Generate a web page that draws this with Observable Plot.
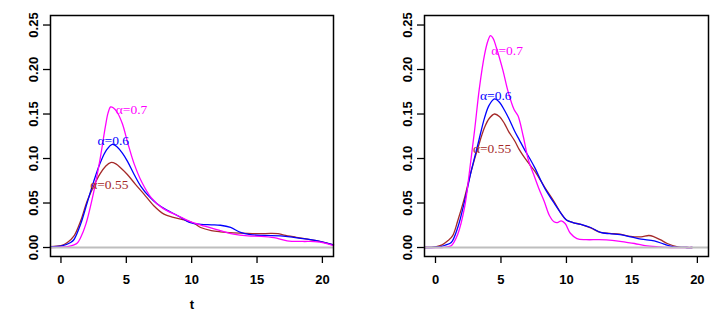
<!DOCTYPE html>
<html>
<head>
<meta charset="utf-8">
<script src="https://cdn.jsdelivr.net/npm/d3@7"></script>
<script src="https://cdn.jsdelivr.net/npm/@observablehq/plot@0.6"></script>
<style>
  html, body { margin: 0; padding: 0; background: #fff; }
  #wrap { display: flex; flex-direction: row; width: 723px; height: 316px; }
  svg [aria-label$="tick"] path { stroke-width: 1.3; }
</style>
</head>
<body>
<div id="wrap"></div>
<script>
// ---------- data ----------
const yTicks = [0, 0.05, 0.10, 0.15, 0.20, 0.25];
const xTicks = [0, 5, 10, 15, 20];
const seriesNames = ["α=0.55", "α=0.6", "α=0.7"];
const seriesColors = ["#a52a2a", "#0000ff", "#ff00ff"];

// left panel
const leftT055 = [-0.8, 0, 0.49, 1.0, 1.51, 2.0, 2.5, 3.0, 3.4, 3.8, 4.2, 4.6, 5.08, 5.7, 6.35, 7.1, 7.88, 8.6, 9.41, 10.2, 10.69, 11.5, 12.2, 13.2, 14.26, 15.2, 16.04, 16.6, 17.07, 18.0, 18.85, 19.8, 20.85];
const leftY055 = [0.001, 0.002, 0.0056, 0.013, 0.030, 0.052, 0.069, 0.083, 0.091, 0.0955, 0.094, 0.089, 0.082, 0.071, 0.060, 0.047, 0.0375, 0.034, 0.031, 0.027, 0.0225, 0.019, 0.0176, 0.0165, 0.0158, 0.0155, 0.0158, 0.0155, 0.0139, 0.0115, 0.0094, 0.007, 0.003];
const leftT06 = [-0.8, 0, 0.74, 1.0, 1.5, 2.0, 2.5, 3.0, 3.5, 3.93, 4.3, 4.7, 5.08, 5.6, 6.1, 6.7, 7.37, 8.1, 8.9, 9.9, 10.7, 11.5, 12.2, 12.98, 13.74, 14.5, 15.5, 16.8, 17.8, 18.85, 19.8, 20.85];
const leftY06 = [0.001, 0.0015, 0.0056, 0.009, 0.026, 0.050, 0.074, 0.095, 0.110, 0.116, 0.113, 0.106, 0.097, 0.082, 0.069, 0.058, 0.049, 0.042, 0.036, 0.028, 0.026, 0.0255, 0.025, 0.0225, 0.017, 0.0145, 0.0135, 0.013, 0.0115, 0.0094, 0.007, 0.003];
const leftT07 = [-0.8, 0, 0.5, 1.0, 1.25, 1.5, 1.9, 2.5, 3.0, 3.4, 3.6, 3.8, 4.0, 4.3, 4.7, 5.1, 5.6, 6.2, 6.9, 7.8, 8.9, 9.9, 11.0, 12.2, 13.2, 14.3, 15.3, 16.3, 17.3, 18.5, 19.4, 20.2, 20.85];
const leftY07 = [0, 0.0005, 0.001, 0.003, 0.005, 0.011, 0.026, 0.062, 0.100, 0.136, 0.151, 0.158, 0.157, 0.152, 0.139, 0.118, 0.094, 0.073, 0.056, 0.044, 0.036, 0.029, 0.024, 0.019, 0.015, 0.013, 0.0125, 0.011, 0.0075, 0.0068, 0.0067, 0.005, 0.002];

// right panel
const rightT055 = [-0.84, 0, 0.5, 0.94, 1.3, 1.7, 2.22, 2.73, 3.24, 3.75, 4.1, 4.51, 4.9, 5.28, 5.6, 6.04, 6.4, 6.8, 7.2, 7.57, 8.33, 9.1, 9.56, 10.0, 10.5, 11.1, 11.85, 12.6, 13.3, 14.1, 14.9, 15.7, 16.3, 16.7, 17.2, 17.7, 18.5, 19.2, 19.6];
const rightY055 = [0, 0.0008, 0.003, 0.0075, 0.013, 0.030, 0.056, 0.086, 0.112, 0.135, 0.145, 0.150, 0.147, 0.139, 0.130, 0.120, 0.110, 0.101, 0.093, 0.086, 0.068, 0.0506, 0.039, 0.031, 0.028, 0.026, 0.022, 0.017, 0.0158, 0.015, 0.0125, 0.012, 0.0135, 0.012, 0.0085, 0.0045, 0.0008, 0, 0];
const rightT06 = [-0.84, 0, 0.43, 0.8, 1.2, 1.7, 2.22, 2.73, 3.24, 3.75, 4.1, 4.51, 4.9, 5.28, 5.6, 6.04, 6.4, 6.8, 7.2, 7.57, 8.33, 9.1, 9.56, 10.0, 10.5, 11.1, 11.85, 12.6, 13.3, 14.1, 14.9, 15.7, 16.7, 17.45, 18.2, 19.2, 19.6];
const rightY06 = [0, 0.0003, 0.001, 0.003, 0.0056, 0.0225, 0.052, 0.086, 0.116, 0.146, 0.160, 0.167, 0.163, 0.154, 0.145, 0.131, 0.121, 0.110, 0.100, 0.090, 0.067, 0.049, 0.039, 0.031, 0.028, 0.026, 0.0225, 0.017, 0.0155, 0.0145, 0.012, 0.0094, 0.0075, 0.0038, 0.0008, 0, 0];
const rightT07 = [-0.84, 0.5, 1.0, 1.2, 1.7, 2.22, 2.6, 2.98, 3.36, 3.75, 4.0, 4.2, 4.4, 4.64, 5.15, 5.53, 6.0, 6.3, 6.7, 7.1, 7.5, 7.9, 8.3, 8.7, 9.05, 9.3, 9.6, 9.9, 10.3, 10.8, 11.5, 12.5, 13.5, 14.5, 15.2, 16.0, 17.0, 18.0, 19.6];
const rightY07 = [0, 0, 0.001, 0.002, 0.015, 0.045, 0.086, 0.131, 0.180, 0.217, 0.232, 0.238, 0.235, 0.225, 0.199, 0.176, 0.155, 0.148, 0.125, 0.098, 0.082, 0.066, 0.052, 0.036, 0.029, 0.028, 0.030, 0.027, 0.016, 0.010, 0.0088, 0.0088, 0.008, 0.006, 0.0045, 0.002, 0.0007, 0, 0];

// label positions (data coordinates)
const leftLabelT = [3.7, 4.0, 5.4];
const leftLabelY = [0.0705, 0.12, 0.155];
const rightLabelT = [4.32, 4.6, 5.47];
const rightLabelY = [0.1105, 0.171, 0.221];

// ---------- helpers ----------
function rows(ts, ys, name) { return ts.map((t, i) => ({t, y: ys[i], s: name})); }

function panel({series, labelT, labelY, width, marginLeft, marginRight, xDomain, xLabel}) {
  const data = series.flat();
  const labels = seriesNames.map((n, i) => ({t: labelT[i], y: labelY[i], s: n}));
  return Plot.plot({
    width, height: 316,
    marginLeft, marginRight, marginTop: 15, marginBottom: 60,
    style: {fontFamily: "'Liberation Sans', Arial, sans-serif", fontSize: "13px", fontWeight: "bold", background: "#fff", color: "#000"},
    x: {domain: xDomain, ticks: xTicks, tickSize: 7, tickPadding: 11, tickFormat: d3.format("d"),
        label: xLabel, labelAnchor: "center", labelOffset: 52, labelArrow: "none"},
    y: {domain: [-0.0101, 0.2607], ticks: yTicks, tickSize: 7, tickPadding: 6, tickRotate: -90,
        tickFormat: d3.format(".2f"), label: null},
    marks: [
      Plot.line(data, {x: "t", y: "y", z: "s", stroke: d => seriesColors[seriesNames.indexOf(d.s)], strokeWidth: 1.3, curve: "catmull-rom"}),
      Plot.ruleY([0], {stroke: "#bebebe", strokeWidth: 2}),
      Plot.text(labels, {x: "t", y: "y", text: "s", fill: d => seriesColors[seriesNames.indexOf(d.s)],
        fontFamily: "'Liberation Serif', 'Times New Roman', serif", fontSize: 13.5, fontWeight: "normal", textAnchor: "middle"}),
      Plot.frame({stroke: "#000", strokeWidth: 1.5})
    ]
  });
}

const wrap = document.getElementById("wrap");
wrap.appendChild(panel({
  series: [rows(leftT055, leftY055, seriesNames[0]), rows(leftT06, leftY06, seriesNames[1]), rows(leftT07, leftY07, seriesNames[2])],
  labelT: leftLabelT, labelY: leftLabelY,
  width: 361, marginLeft: 50, marginRight: 28, xDomain: [-0.8, 20.85], xLabel: "t"
}));
wrap.appendChild(panel({
  series: [rows(rightT055, rightY055, seriesNames[0]), rows(rightT06, rightY06, seriesNames[1]), rows(rightT07, rightY07, seriesNames[2])],
  labelT: rightLabelT, labelY: rightLabelY,
  width: 362, marginLeft: 63, marginRight: 15, xDomain: [-0.84, 20.85], xLabel: null
}));
</script>
</body>
</html>
